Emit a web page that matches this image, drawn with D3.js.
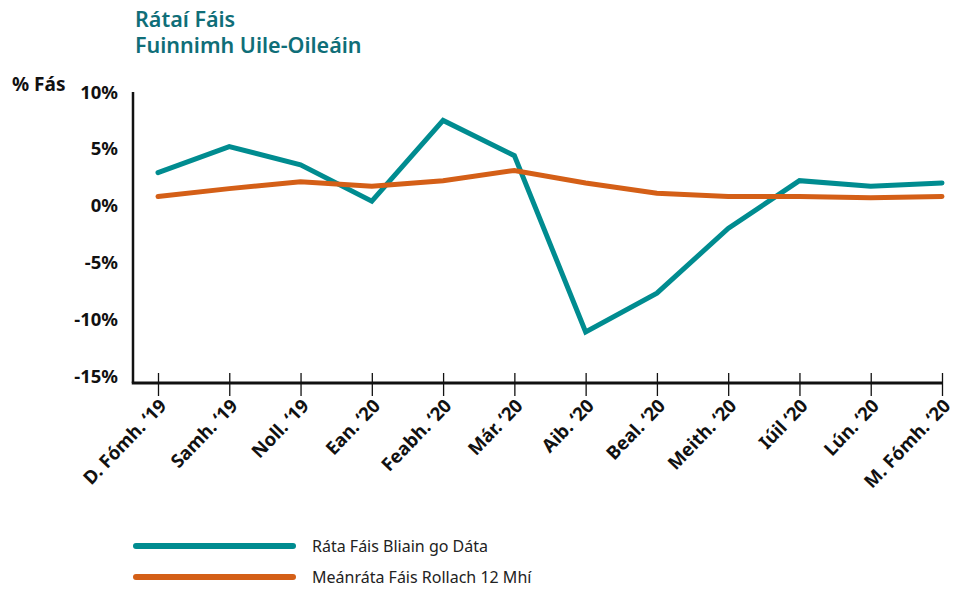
<!DOCTYPE html>
<html>
<head>
<meta charset="utf-8">
<script src="https://cdn.jsdelivr.net/npm/d3@7"></script>
<style>
  body { margin: 0; background: #fff; }
  text { font-family: "Noto Sans", "Open Sans", sans-serif; }
</style>
</head>
<body>
<div id="chart"></div>
<script>
const months = ['D. Fómh. ‘19', 'Samh. ‘19', 'Noll. ‘19', 'Ean. ‘20', 'Feabh. ‘20', 'Már. ‘20',
  'Aib. ‘20', 'Beal. ‘20', 'Meith. ‘20', 'Iúil ‘20', 'Lún. ‘20', 'M. Fómh. ‘20'];
const ytdRate = [2.9, 5.2, 3.6, 0.4, 7.5, 4.4, -11.1, -7.7, -2.0, 2.2, 1.7, 2.0];
const rollingAvg = [0.8, 1.5, 2.1, 1.7, 2.2, 3.1, 2.0, 1.1, 0.8, 0.8, 0.7, 0.8];
const yTicks = [10, 5, 0, -5, -10, -15];
const seriesNames = ['Ráta Fáis Bliain go Dáta', 'Meánráta Fáis Rollach 12 Mhí'];
const colours = ['#008c90', '#d45f17'];

const width = 955, height = 589;

const svg = d3.select('#chart')
  .append('svg')
  .attr('width', width)
  .attr('height', height);

// title, two separate lines
svg.append('g')
  .selectAll('text')
  .data(['Rátaí Fáis', 'Fuinnimh Uile-Oileáin'])
  .join('text')
  .attr('x', 135)
  .attr('y', (d, i) => 27 + i * 26)
  .attr('fill', '#0f6e78')
  .style('font-size', '21.5px')
  .style('font-weight', 600)
  .text(d => d);

svg.append('text')
  .attr('x', 12)
  .attr('y', 91)
  .style('font-size', '19px')
  .style('font-weight', 700)
  .attr('fill', '#111')
  .text('% Fás');

const x = d3.scalePoint()
  .domain(months)
  .range([158, 942]);

const y = d3.scaleLinear()
  .domain([-15.6, 10])
  .range([383, 92]);

// y axis: plain line + labels
svg.append('line')
  .attr('x1', 133).attr('x2', 133)
  .attr('y1', y(10)).attr('y2', y(-15.6))
  .attr('stroke', '#111')
  .attr('stroke-width', 2.5);

svg.append('g')
  .selectAll('text')
  .data(yTicks)
  .join('text')
  .attr('x', 118)
  .attr('y', d => y(d))
  .attr('dy', '0.36em')
  .attr('text-anchor', 'end')
  .style('font-size', '18.5px')
  .style('font-weight', 700)
  .attr('fill', '#111')
  .text(d => d + '%');

// x axis
const xAxis = svg.append('g')
  .attr('transform', `translate(0, ${y(-15.6)})`)
  .call(d3.axisBottom(x).tickSize(13).tickSizeOuter(0).tickPadding(6));

xAxis.select('.domain').remove();
xAxis.selectAll('.tick line')
  .attr('y1', -10)
  .attr('stroke', '#111')
  .attr('stroke-width', 1.3);

svg.append('line')
  .attr('x1', 131.75).attr('x2', 943)
  .attr('y1', y(-15.6)).attr('y2', y(-15.6))
  .attr('stroke', '#111')
  .attr('stroke-width', 3);

xAxis.selectAll('.tick text')
  .attr('fill', '#111')
  .style('font-size', '18.5px')
  .style('font-weight', 700)
  .attr('text-anchor', 'end')
  .attr('dy', '0.3em')
  .attr('transform', 'translate(5, 20) rotate(-46)')
  .attr('y', 0);

// lines
const line = d3.line()
  .x((d, i) => x(months[i]))
  .y(d => y(d));

[ytdRate, rollingAvg].forEach((vals, k) => {
  svg.append('path')
    .datum(vals)
    .attr('fill', 'none')
    .attr('stroke', colours[k])
    .attr('stroke-width', 5)
    .attr('stroke-linecap', 'round')
    .attr('stroke-linejoin', 'miter')
    .attr('d', line);
});

// legend
const legend = svg.append('g')
  .selectAll('g')
  .data(seriesNames)
  .join('g')
  .attr('transform', (d, i) => `translate(0, ${546 + i * 31})`);

legend.append('line')
  .attr('x1', 136).attr('x2', 293)
  .attr('stroke', (d, i) => colours[i])
  .attr('stroke-width', 6)
  .attr('stroke-linecap', 'round');

legend.append('text')
  .attr('x', 312)
  .attr('dy', '0.35em')
  .style('font-size', '16px')
  .attr('fill', '#222')
  .text(d => d);
</script>
</body>
</html>
